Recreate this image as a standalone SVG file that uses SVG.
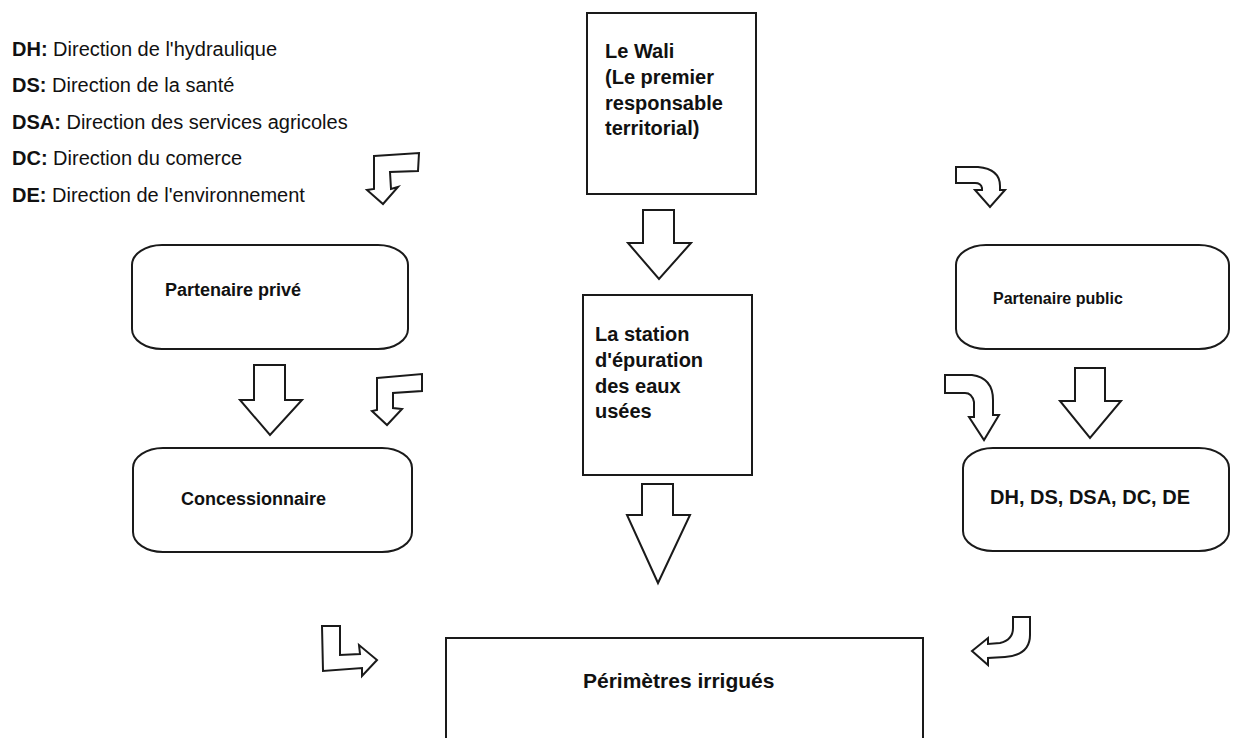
<svg xmlns="http://www.w3.org/2000/svg" width="1235" height="738" viewBox="0 0 1235 738">
  <style>
    .box { fill: #ffffff; stroke: #1a1a1a; stroke-width: 2; }
    .arrow { fill: #ffffff; stroke: #1a1a1a; stroke-width: 2; stroke-linejoin: miter; }
    .label { font-family: "Liberation Sans", Arial, sans-serif; font-weight: bold; font-size: 20px; fill: #111111; }
    .legend { font-family: "Liberation Sans", Arial, sans-serif; font-size: 20px; fill: #111111; }
    .legend tspan.abbr { font-weight: bold; }
  </style>
  <rect x="0" y="0" width="1235" height="738" fill="#ffffff"/>

  <!-- Legend of abbreviations -->
  <g id="legend" class="legend">
    <text x="12" y="56"><tspan class="abbr">DH:</tspan> Direction de l'hydraulique</text>
    <text x="12" y="92"><tspan class="abbr">DS:</tspan> Direction de la santé</text>
    <text x="12" y="129"><tspan class="abbr">DSA:</tspan> Direction des services agricoles</text>
    <text x="12" y="165"><tspan class="abbr">DC:</tspan> Direction du comerce</text>
    <text x="12" y="202"><tspan class="abbr">DE:</tspan> Direction de l'environnement</text>
  </g>

  <!-- Nodes -->
  <g id="wali">
    <rect class="box" x="587" y="13" width="169" height="181"/>
    <text class="label"><tspan x="605" y="58">Le Wali</tspan><tspan x="605" y="84">(Le premier</tspan><tspan x="605" y="110">responsable</tspan><tspan x="605" y="135">territorial)</tspan></text>
  </g>

  <g id="partenaire-prive">
    <rect class="box" x="132" y="245" width="276" height="104" rx="30" ry="20"/>
    <text class="label" x="165" y="296" style="font-size:18px">Partenaire privé</text>
  </g>

  <g id="partenaire-public">
    <rect class="box" x="956" y="245" width="273" height="104" rx="30" ry="20"/>
    <text class="label" x="993" y="304" style="font-size:16px">Partenaire public</text>
  </g>

  <g id="station">
    <rect class="box" x="583" y="295" width="169" height="180"/>
    <text class="label"><tspan x="595" y="341">La station</tspan><tspan x="595" y="367">d'épuration</tspan><tspan x="595" y="393">des eaux</tspan><tspan x="595" y="418">usées</tspan></text>
  </g>

  <g id="concessionnaire">
    <rect class="box" x="133" y="448" width="279" height="104" rx="30" ry="20"/>
    <text class="label" x="181" y="505" style="font-size:18px">Concessionnaire</text>
  </g>

  <g id="directions">
    <rect class="box" x="963" y="448" width="266" height="103" rx="30" ry="20"/>
    <text class="label" x="990" y="504">DH, DS, DSA, DC, DE</text>
  </g>

  <g id="perimetres">
    <rect class="box" x="446" y="638" width="477" height="110"/>
    <text class="label" x="583" y="688" style="font-size:21px">Périmètres irrigués</text>
  </g>

  <!-- Connectors: block arrows -->
  <g id="connectors">
    <!-- straight down arrows -->
    <polygon class="arrow" points="643,210 674,210 674,243 691,243 659,279 628,243 643,243"/>
    <polygon class="arrow" points="254,365 285,365 285,400 302,400 270,435 240,400 254,400"/>
    <polygon class="arrow" points="1075,368 1105,368 1105,401 1121,401 1090,438 1060,401 1075,401"/>
    <polygon class="arrow" points="642,484 673,484 673,515 690,515 658,583 627,515 642,515"/>

    <!-- bent arrows, left side -->
    <polygon class="arrow" points="374,156 419,153 418,171 390,172 391,189 398,187 383,204 367,190 374,189"/>
    <polygon class="arrow" points="377,378 422,374 422,391 393,393 393,408 402,409 387,425 372,411 377,410"/>
    <polygon class="arrow" points="322,626 340,626 340,655 360,654 359,645 377,660 362,676 362,668 323,671"/>

    <!-- curved arrows, right side -->
    <path class="arrow" d="M956,167 L978,167 Q1000,169 1000,186 L1000,190 L1005,190 L990,207 L975,190 L982,190 L982,188 Q981,183 975,183 L956,183 Z"/>
    <path class="arrow" d="M945,375 L972,375 Q993,378 993,400 L993,415 L999,415 L984,440 L969,417 L974,417 L974,402 Q972,393 965,393 L945,393 Z"/>
    <path class="arrow" d="M1013,617 L1030,617 L1030,635 Q1030,655 1005,657 L988,658 L988,665 L972,651 L988,638 L988,644 L1000,643 Q1013,640 1013,628 Z"/>
  </g>
</svg>
